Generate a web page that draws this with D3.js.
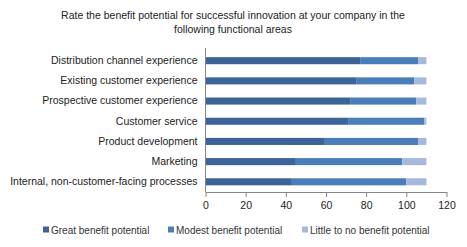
<!DOCTYPE html>
<html>
<head>
<meta charset="utf-8">
<script src="https://cdn.jsdelivr.net/npm/d3@7"></script>
<style>
  body { margin: 0; background: #fff; }
  svg { font-family: "Liberation Sans", Arial, sans-serif; }
</style>
</head>
<body>
<svg id="chart" width="467" height="247"></svg>
<script>
// data
const categories = [
  "Distribution channel experience",
  "Existing customer experience",
  "Prospective customer experience",
  "Customer service",
  "Product development",
  "Marketing",
  "Internal, non-customer-facing processes"
];
const seriesNames = ["Great benefit potential", "Modest benefit potential", "Little to no benefit potential"];
const great  = [77, 75, 72, 71, 59, 45, 43];
const modest = [29, 29, 33, 38, 47, 53, 57];
const little = [4, 6, 5, 1, 4, 12, 10];
const xTicks = [0, 20, 40, 60, 80, 100, 120];

const colors = ["#3c6499", "#4a7ebb", "#a7b9db"];

const svg = d3.select("#chart");

// title
svg.append("text")
  .attr("x", 233).attr("y", 19)
  .attr("text-anchor", "middle")
  .attr("font-size", 10.5)
  .attr("fill", "#222")
  .text("Rate the benefit potential for successful innovation at your company in the");
svg.append("text")
  .attr("x", 233).attr("y", 33)
  .attr("text-anchor", "middle")
  .attr("font-size", 10.5)
  .attr("fill", "#222")
  .text("following functional areas");

const rows = categories.map((c, i) => ({ cat: c, vals: [great[i], modest[i], little[i]] }));
const stack = d3.stack().keys([0, 1, 2]).value((d, k) => d.vals[k]);
const series = stack(rows);

const x = d3.scaleLinear().domain([0, 120]).range([205.5, 446.5]);
const y = d3.scaleBand().domain(categories).range([50.5, 192]).paddingInner(0.65).paddingOuter(0.33);

// bars
svg.selectAll(".series")
  .data(series)
  .enter().append("g")
  .attr("class", "series")
  .attr("fill", (d, i) => colors[i])
  .selectAll("rect")
  .data(d => d)
  .enter().append("rect")
  .attr("x", d => x(d[0]))
  .attr("y", d => y(d.data.cat))
  .attr("width", d => x(d[1]) - x(d[0]))
  .attr("height", y.bandwidth());

// x axis
const xAxis = svg.append("g")
  .attr("transform", "translate(0,192)")
  .call(d3.axisBottom(x).tickValues(xTicks).tickSize(5).tickSizeOuter(0));
xAxis.select(".domain").attr("stroke", "#868686");
xAxis.selectAll(".tick line").attr("stroke", "#868686");
xAxis.selectAll(".tick text")
  .attr("font-size", 10.5)
  .attr("fill", "#222")
  .attr("font-family", "Liberation Sans, Arial, sans-serif")
  .attr("dy", "0.9em");

// y axis
const yAxis = svg.append("g")
  .attr("transform", "translate(205.5,0)")
  .call(d3.axisLeft(y).tickSize(0).tickPadding(8));
yAxis.select(".domain").attr("stroke", "#868686").attr("d", "M0,48V192");
yAxis.selectAll(".tick text")
  .attr("font-size", 10.5)
  .attr("fill", "#222")
  .attr("font-family", "Liberation Sans, Arial, sans-serif");

// legend
const legendX = [43, 168, 302];
const legend = svg.selectAll(".legend")
  .data(seriesNames)
  .enter().append("g")
  .attr("class", "legend")
  .attr("transform", (d, i) => `translate(${legendX[i]},230)`);
legend.append("rect")
  .attr("x", 0).attr("y", -3.5)
  .attr("width", 6).attr("height", 6)
  .attr("fill", (d, i) => colors[i]);
legend.append("text")
  .attr("x", 8).attr("y", 0)
  .attr("dy", "0.35em")
  .attr("font-size", 10)
  .attr("fill", "#333")
  .text(d => d);
</script>
</body>
</html>
